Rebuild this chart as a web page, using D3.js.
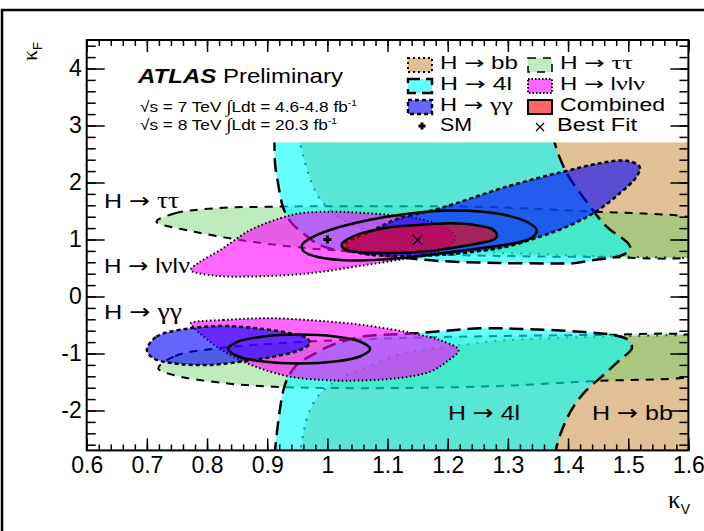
<!DOCTYPE html>
<html>
<head>
<meta charset="utf-8">
<script src="https://cdn.jsdelivr.net/npm/d3@7"></script>
<style>
  body { margin: 0; background: #fff; }
  text { font-family: "Liberation Sans", Arial, Helvetica, sans-serif; }
</style>
</head>
<body>
<div id="chart"></div>
<script>
// ---- data: [kappaV, kappaF] contour points ----
const bbUpper = [[0.952,2.8],[0.963,2.34],[0.974,1.99],[0.985,1.75],[0.999,1.575],[1.021,1.38],[1.054,1.20],[1.082,1.13],[1.104,1.045],[1.132,0.96],[1.17,0.93],[1.22,0.85],[1.282,0.77],[1.353,0.745],[1.436,0.71],[1.498,0.698],[1.60,0.68],[1.65,0.675]];
const bbLower = [[0.954,-2.8],[0.96,-2.40],[0.971,-1.99],[0.988,-1.70],[1.004,-1.553],[1.02,-1.435],[1.054,-1.29],[1.116,-1.026],[1.171,-0.921],[1.214,-0.86],[1.282,-0.78],[1.365,-0.733],[1.448,-0.705],[1.50,-0.693],[1.603,-0.675],[1.65,-0.67]];

const ttUpper = [[0.716,1.312],[0.747,1.46],[0.811,1.547],[0.906,1.575],[1.038,1.585],[1.243,1.575],[1.353,1.535],[1.441,1.488],[1.519,1.46],[1.602,1.39],[1.64,1.25],[1.64,0.8],[1.602,0.684],[1.453,0.693],[1.287,0.711],[1.121,0.754],[1.004,0.816],[0.931,0.886],[0.855,0.991],[0.779,1.137]];
const ttLower = [[0.719,-1.26],[0.747,-1.044],[0.822,-0.904],[0.955,-0.798],[1.121,-0.728],[1.287,-0.693],[1.453,-0.675],[1.602,-0.675],[1.64,-0.8],[1.64,-1.3],[1.602,-1.412],[1.447,-1.482],[1.287,-1.57],[1.121,-1.605],[1.004,-1.605],[0.91,-1.582],[0.827,-1.518],[0.744,-1.377]];

const fourlUpper = [[0.912,2.8],[0.913,2.337],[0.918,1.986],[0.927,1.547],[0.941,1.284],[0.96,1.109],[0.982,0.933],[1.004,0.842],[1.054,0.763],[1.121,0.684],[1.187,0.623],[1.287,0.588],[1.387,0.58],[1.409,0.582],[1.436,0.628],[1.464,0.67],[1.486,0.711],[1.50,0.786],[1.503,0.874],[1.497,0.962],[1.464,1.225],[1.431,1.663],[1.398,2.161],[1.378,2.688],[1.377,2.8]];
const fourlLower = [[0.912,-2.8],[0.916,-2.40],[0.921,-1.99],[0.927,-1.64],[0.935,-1.41],[0.949,-1.20],[0.969,-1.06],[1.008,-0.851],[1.058,-0.705],[1.147,-0.646],[1.254,-0.558],[1.337,-0.575],[1.42,-0.618],[1.475,-0.675],[1.50,-0.763],[1.506,-0.909],[1.486,-1.114],[1.459,-1.377],[1.431,-1.64],[1.409,-1.933],[1.392,-2.284],[1.381,-2.635],[1.378,-2.8]];

const lvlvUpper = [[0.773,0.465],[0.788,0.606],[0.822,0.816],[0.872,1.167],[0.921,1.372],[0.955,1.46],[1.01,1.488],[1.054,1.47],[1.104,1.43],[1.154,1.36],[1.19,1.237],[1.212,1.061],[1.207,0.921],[1.187,0.816],[1.147,0.698],[1.064,0.553],[0.969,0.407],[0.874,0.351],[0.811,0.368]];
const lvlvLower = [[0.773,-0.47],[0.827,-0.412],[0.91,-0.382],[1.004,-0.442],[1.059,-0.5],[1.142,-0.646],[1.191,-0.781],[1.218,-0.939],[1.198,-1.144],[1.171,-1.319],[1.115,-1.435],[1.032,-1.477],[0.993,-1.465],[0.938,-1.407],[0.888,-1.26],[0.849,-1.084],[0.816,-0.881],[0.788,-0.646],[0.777,-0.535]];

const ggUpper = [[1.029,0.904],[1.071,1.132],[1.116,1.36],[1.187,1.547],[1.298,1.926],[1.392,2.189],[1.453,2.337],[1.497,2.382],[1.519,2.277],[1.514,2.102],[1.486,1.811],[1.442,1.46],[1.398,1.225],[1.353,1.049],[1.298,0.874],[1.243,0.786],[1.187,0.728],[1.121,0.711],[1.054,0.763]];
const ggLower = [[0.70,-0.939],[0.716,-0.705],[0.772,-0.558],[0.827,-0.518],[0.883,-0.558],[0.938,-0.646],[0.966,-0.733],[0.971,-0.821],[0.954,-0.939],[0.91,-1.056],[0.855,-1.144],[0.799,-1.202],[0.744,-1.172],[0.711,-1.084]];

const combInner = [[1.282,1.061],[1.275,1.175],[1.245,1.254],[1.204,1.284],[1.149,1.254],[1.092,1.193],[1.049,1.079],[1.024,0.921],[1.029,0.825],[1.062,0.772],[1.112,0.763],[1.162,0.789],[1.212,0.86],[1.254,0.939],[1.275,0.991]];
const combOuter = [[1.348,1.167],[1.342,1.044],[1.32,0.956],[1.27,0.868],[1.212,0.789],[1.149,0.702],[1.092,0.649],[1.038,0.632],[0.988,0.684],[0.961,0.789],[0.958,0.904],[0.971,1.018],[1.004,1.167],[1.046,1.289],[1.096,1.395],[1.151,1.474],[1.204,1.509],[1.254,1.491],[1.299,1.421],[1.332,1.307]];
const combLower = [[1.071,-0.921],[1.055,-0.794],[1.012,-0.70],[0.953,-0.667],[0.894,-0.70],[0.851,-0.794],[0.835,-0.921],[0.851,-1.048],[0.894,-1.142],[0.953,-1.175],[1.012,-1.142],[1.055,-1.048]];

const smPoint = [1.0, 1.0];
const bestFit = [1.15, 0.99];

const xTickVals = [0.6,0.7,0.8,0.9,1,1.1,1.2,1.3,1.4,1.5,1.6];
const xTickLabels = ["0.6","0.7","0.8","0.9","1","1.1","1.2","1.3","1.4","1.5","1.6"];
const yTickVals = [-2,-1,0,1,2,3,4];
const yTickLabels = ["-2","-1","0","1","2","3","4"];

// ---- drawing ----
const svg = d3.select("#chart").append("svg")
    .attr("width", 704)
    .attr("height", 531);

svg.append("rect").attr("width", 704).attr("height", 531).attr("fill", "#fff");
// canvas border
svg.append("rect")
    .attr("x", 2).attr("y", 10).attr("width", 760).attr("height", 600)
    .attr("fill", "none").attr("stroke", "#000").attr("stroke-width", 2.5);

const x = d3.scaleLinear().domain([0.6, 1.6]).range([86.7, 688.4]);
const y = d3.scaleLinear().domain([-2.7, 4.5]).range([450.4, 40]);

// histogram range of the contours
svg.append("clipPath").attr("id", "histClip")
    .append("rect")
    .attr("x", x(0.6)).attr("y", y(2.7))
    .attr("width", x(1.6) - x(0.6)).attr("height", y(-2.7) - y(2.7));

const openLine = d3.line().x(d => x(d[0])).y(d => y(d[1])).curve(d3.curveCatmullRom.alpha(0.5));
const closedLine = d3.line().x(d => x(d[0])).y(d => y(d[1])).curve(d3.curveCatmullRomClosed.alpha(0.5));

const regions = [
    {pts: bbUpper, open: true, corners: [[1.65, 2.8]], fill: "rgb(224,192,148)", dash: "2,7", sw: 2},
    {pts: bbLower, open: true, corners: [[1.65, -2.8]], fill: "rgb(224,192,148)", dash: "2,7", sw: 2},
    {pts: ttUpper, fill: "rgba(92,207,92,0.4)", dash: "8,7", sw: 2},
    {pts: ttLower, fill: "rgba(92,207,92,0.4)", dash: "8,7", sw: 2},
    {pts: fourlUpper, open: true, corners: [], fill: "rgba(0,255,255,0.6)", dash: "14,7", sw: 2.5},
    {pts: fourlLower, open: true, corners: [], fill: "rgba(0,255,255,0.6)", dash: "14,7", sw: 2.5},
    {pts: lvlvUpper, fill: "rgba(255,0,255,0.6)", dash: "1.5,2.5", sw: 2},
    {pts: lvlvLower, fill: "rgba(255,0,255,0.6)", dash: "1.5,2.5", sw: 2},
    {pts: ggUpper, fill: "rgba(0,0,255,0.6)", dash: "4,3", sw: 2.5},
    {pts: ggLower, fill: "rgba(0,0,255,0.6)", dash: "4,3", sw: 2.5},
    {pts: combInner, fill: "rgba(255,0,0,0.6)", dash: null, sw: 2.5},
    {pts: combOuter, fill: "none", dash: null, sw: 2.5},
    {pts: combLower, fill: "none", dash: null, sw: 2.5}
];

const contours = svg.append("g").attr("clip-path", "url(#histClip)");

regions.forEach(r => {
    let fillPath, strokePath;
    if (r.open) {
        strokePath = openLine(r.pts);
        fillPath = strokePath + r.corners.map(c => "L" + x(c[0]) + "," + y(c[1])).join("") + "Z";
    } else {
        strokePath = fillPath = closedLine(r.pts);
    }
    if (r.fill !== "none") {
        contours.append("path").attr("d", fillPath).attr("fill", r.fill).attr("stroke", "none");
    }
    contours.append("path").attr("d", strokePath)
        .attr("fill", "none")
        .attr("stroke", "#000")
        .attr("stroke-width", r.sw)
        .attr("stroke-dasharray", r.dash);
});

// markers
function plusMarker(g, cx, cy, s) {
    g.append("path")
        .attr("d", `M${cx - s},${cy}H${cx + s}M${cx},${cy - s}V${cy + s}`)
        .attr("stroke", "#000").attr("stroke-width", 3);
}
function crossMarker(g, cx, cy, s) {
    g.append("path")
        .attr("d", `M${cx - s},${cy - s}L${cx + s},${cy + s}M${cx - s},${cy + s}L${cx + s},${cy - s}`)
        .attr("stroke", "#000").attr("stroke-width", 1.3);
}
plusMarker(svg, x(smPoint[0]), y(smPoint[1]), 4);
crossMarker(svg, x(bestFit[0]), y(bestFit[1]), 5);

// axes (ROOT style: ticks inside on all four sides)
const frame = svg.append("g");
function styleAxis(g) {
    g.select(".domain").remove();
    g.selectAll("line").attr("stroke", "#000").attr("stroke-width", 1.5);
    g.selectAll("text").attr("font-size", 23).attr("fill", "#000")
        .attr("font-family", "'Liberation Sans', Arial, Helvetica, sans-serif");
}
frame.append("g").attr("transform", `translate(0,${y(-2.7)})`)
    .call(d3.axisBottom(x).ticks(50).tickSize(-6).tickFormat("")).call(styleAxis);
frame.append("g").attr("transform", `translate(0,${y(-2.7)})`)
    .call(d3.axisBottom(x).tickValues(xTickVals).tickFormat((d, i) => xTickLabels[i]).tickSize(-12).tickPadding(6))
    .call(styleAxis);
frame.append("g").attr("transform", `translate(0,${y(4.5)})`)
    .call(d3.axisTop(x).ticks(50).tickSize(-6).tickFormat("")).call(styleAxis);
frame.append("g").attr("transform", `translate(0,${y(4.5)})`)
    .call(d3.axisTop(x).tickValues(xTickVals).tickSize(-12).tickFormat("")).call(styleAxis);

frame.append("g").attr("transform", `translate(${x(0.6)},0)`)
    .call(d3.axisLeft(y).ticks(36).tickSize(-9).tickFormat("")).call(styleAxis);
frame.append("g").attr("transform", `translate(${x(0.6)},0)`)
    .call(d3.axisLeft(y).tickValues(yTickVals).tickFormat((d, i) => yTickLabels[i]).tickSize(-18).tickPadding(5))
    .call(styleAxis);
frame.append("g").attr("transform", `translate(${x(1.6)},0)`)
    .call(d3.axisRight(y).ticks(36).tickSize(-9).tickFormat("")).call(styleAxis);
frame.append("g").attr("transform", `translate(${x(1.6)},0)`)
    .call(d3.axisRight(y).tickValues(yTickVals).tickSize(-18).tickFormat("")).call(styleAxis);

frame.append("rect")
    .attr("x", x(0.6)).attr("y", y(4.5))
    .attr("width", x(1.6) - x(0.6)).attr("height", y(-2.7) - y(4.5))
    .attr("fill", "none").attr("stroke", "#000").attr("stroke-width", 2);

// text with ROOT-like glyphs: greek in serif, arrow from DejaVu
const serif = "'Liberation Serif', 'DejaVu Serif', serif";
function richText(g, xPos, yPos, size, str, width) {
    const t = g.append("text").attr("x", xPos).attr("y", yPos).attr("font-size", size);
    str.split(/([\u03b1-\u03c9]+|→)/).forEach(s => {
        if (!s) return;
        const ts = t.append("tspan").text(s);
        if (s === "→") ts.attr("font-family", "'DejaVu Sans', sans-serif");
        else if (/[\u03b1-\u03c9]/.test(s)) ts.attr("font-family", serif).attr("font-size", size * 1.1);
    });
    if (width) t.attr("textLength", width).attr("lengthAdjust", "spacingAndGlyphs");
    return t;
}

// axis titles
const kf = svg.append("text").attr("transform", "translate(37,42) rotate(-90)")
    .attr("text-anchor", "end").attr("font-size", 22);
kf.append("tspan").attr("font-family", serif).text("κ");
kf.append("tspan").attr("font-size", 13).attr("dy", 5).text("F");

const kv = svg.append("text").attr("x", 690).attr("y", 508)
    .attr("text-anchor", "end").attr("font-size", 25);
kv.append("tspan").attr("font-family", serif).text("κ");
kv.append("tspan").attr("font-size", 14).attr("dy", 6).text("V");

// ATLAS label
const atl = svg.append("text").attr("x", 138).attr("y", 83).attr("font-size", 21)
    .attr("textLength", 205).attr("lengthAdjust", "spacingAndGlyphs");
atl.append("tspan").attr("font-weight", "bold").attr("font-style", "italic").text("ATLAS");
atl.append("tspan").text(" Preliminary");

function lumiLine(yPos, energy, lumi, width) {
    const t = svg.append("text").attr("x", 140).attr("y", yPos).attr("font-size", 15)
        .attr("textLength", width).attr("lengthAdjust", "spacingAndGlyphs");
    t.append("tspan").text("√s = " + energy + " TeV ");
    t.append("tspan").attr("font-size", 17).attr("font-family", serif).text("∫");
    t.append("tspan").text("Ldt = " + lumi + " fb");
    t.append("tspan").attr("font-size", 9).attr("dy", -6).text("-1");
}
lumiLine(112, "7", "4.6-4.8", 217);
lumiLine(130, "8", "20.3", 197);

// in-plot channel labels
const chanLabels = [
    {t: "H → ττ", x: 104, y: 208, w: 75},
    {t: "H → lνlν", x: 104, y: 273, w: 86},
    {t: "H → γγ", x: 104, y: 319, w: 78},
    {t: "H → 4l", x: 448, y: 420, w: 72},
    {t: "H → bb", x: 592, y: 420, w: 81}
];
chanLabels.forEach(d => richText(svg, d.x, d.y, 21, d.t, d.w));

// legend
const legendItems = [
    {label: "H → bb", col: 0, row: 0, w: 78, fill: "rgb(224,192,148)", dash: "2,3", sw: 2},
    {label: "H → 4l", col: 0, row: 1, w: 72, fill: "rgb(102,255,255)", dash: "12,6", sw: 2.5},
    {label: "H → γγ", col: 0, row: 2, w: 73, fill: "rgb(102,102,255)", dash: "4,3", sw: 2.5},
    {label: "H → ττ", col: 1, row: 0, w: 73, fill: "rgb(190,236,190)", dash: "8,7", sw: 1.5},
    {label: "H → lνlν", col: 1, row: 1, w: 85, fill: "rgb(255,102,255)", dash: "1.5,2", sw: 2},
    {label: "Combined", col: 1, row: 2, w: 105, fill: "rgb(255,102,102)", dash: null, sw: 2}
];
const colX = [408, 528];
const rowY = [58, 79, 100, 121];
const leg = svg.append("g");
legendItems.forEach(d => {
    leg.append("rect")
        .attr("x", colX[d.col]).attr("y", rowY[d.row])
        .attr("width", 24).attr("height", 14)
        .attr("fill", d.fill)
        .attr("stroke", "#000").attr("stroke-width", d.sw)
        .attr("stroke-dasharray", d.dash);
    richText(leg, colX[d.col] + 32, rowY[d.row] + 10.5, 18, d.label, d.w);
});
plusMarker(leg, 422, 126, 3.5);
richText(leg, 440, 131, 18, "SM", 32);
crossMarker(leg, 540, 127, 4);
richText(leg, 557, 131, 18, "Best Fit", 80);
</script>
</body>
</html>
